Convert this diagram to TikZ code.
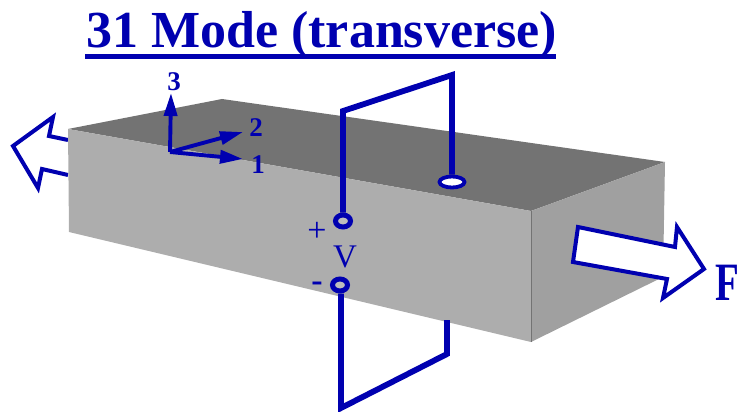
\documentclass[tikz,border=0pt]{standalone}
\usepackage{fontspec}
\setmainfont{Liberation Serif}
\usetikzlibrary{arrows.meta,shapes.geometric}
\definecolor{wire}{HTML}{0000B0}
\definecolor{topface}{HTML}{737373}
\definecolor{frontface}{HTML}{ADADAD}
\definecolor{sideface}{HTML}{A0A0A0}
\tikzset{
  wireline/.style={draw=wire,line width=5.8pt,line join=miter},
  hollowarrow/.style={draw=wire,line width=4pt,fill=white,line join=miter},
  axisline/.style={draw=wire,line width=3.9pt,-{Triangle[length=23pt,width=13pt]}},
  axislabel/.style={text=wire,font=\fontsize{27}{27}\selectfont\bfseries,inner sep=0pt},
  signlabel/.style={text=wire,inner sep=0pt},
  terminal/.style={ellipse,draw=wire,line width=5pt,inner sep=0pt,minimum width=15pt,minimum height=12pt,fill=frontface!80!white}
}
\begin{document}
\begin{tikzpicture}[x=1pt,y=-1pt]
\useasboundingbox (0,0) rectangle (740,412);
% left force arrow (behind block)
\draw[hollowarrow] (68,140) -- (49,136) -- (53,117) -- (13,146) -- (38,188) -- (42,169) -- (68,175);
% block
\fill[topface] (68,129) -- (222,99) -- (665,162) -- (531,211) -- cycle;
\fill[frontface] (68,129) -- (531,211) -- (531,342) -- (69,232) -- cycle;
\fill[sideface] (531,211) -- (665,162) -- (663,277) -- (531,342) -- cycle;
\draw[gray!90!black,line width=.8pt] (531,211) -- (531,342);
% title
\node[text=wire,inner sep=0pt,anchor=base west,font=\fontsize{52}{52}\selectfont\bfseries] (title) at (86,47.5) {31 Mode (transverse)};
\coordinate (ulA) at (85,56.5);
\coordinate (ulB) at (556,56.5);
\draw[wire,line width=5.5pt] (ulA) -- (ulB);
% axes
\coordinate (origin) at (170,152);
\coordinate (ax3) at (171,93);
\coordinate (ax2) at (243,132);
\coordinate (ax1) at (243,159);
\draw[axisline] (origin) -- (ax3);
\draw[axisline] (origin) -- (ax2);
\draw[axisline] (origin) -- (ax1);
\node[axislabel] (l3) at (174,82) {3};
\node[axislabel] (l2) at (256,128) {2};
\node[axislabel] (l1) at (258,165) {1};
% wires
\coordinate (w1) at (343,111);
\coordinate (w2) at (452,75);
\coordinate (w3) at (341,408);
\coordinate (w4) at (447,354);
\coordinate (w5) at (447,320);
\node[ellipse,draw=wire,line width=3.8pt,fill=white,inner sep=0pt,minimum width=25pt,minimum height=11pt] (topt) at (452,182) {};
\node[terminal] (plus) at (343,221) {};
\node[terminal] (minus) at (340,285) {};
\draw[wireline] (plus.north -| w1) -- (w1) -- (w2) -- (topt.north -| w2);
\draw[wireline] (minus.south -| w3) -- (w3) -- (w4) -- (w5);
\node[signlabel,font=\fontsize{34}{34}\selectfont] (plusl) at (317,232) {+};
\node[signlabel,font=\fontsize{33}{33}\selectfont] (vl) at (345,257) {V};
\node[signlabel,font=\fontsize{34}{34}\selectfont\bfseries] (minusl) at (317,287) {-};
% right force arrow
\draw[hollowarrow] (578,227) -- (675,247) -- (677,227) -- (704,269) -- (663,298) -- (667,279) -- (573,262) -- cycle;
\node[text=wire,inner sep=0pt,anchor=base west,xscale=0.72,font=\fontsize{54}{54}\selectfont\bfseries] (force) at (715,300) {F};
\end{tikzpicture}
\end{document}
